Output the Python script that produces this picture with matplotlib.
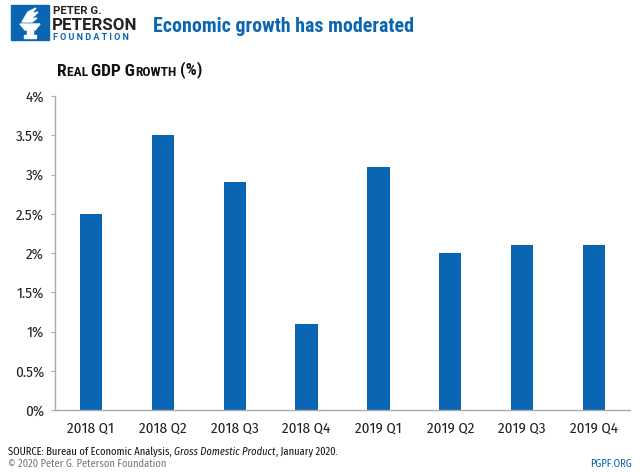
import matplotlib
matplotlib.use("Agg")
import matplotlib.pyplot as plt
from matplotlib.patches import Rectangle, Polygon

categories = ["2018 Q1", "2018 Q2", "2018 Q3", "2018 Q4", "2019 Q1", "2019 Q2", "2019 Q3", "2019 Q4"]
values = [2.5, 3.5, 2.9, 1.1, 3.1, 2.0, 2.1, 2.1]
yticks = [0, 0.5, 1, 1.5, 2, 2.5, 3, 3.5, 4]
ytick_labels = ["0%", "0.5%", "1%", "1.5%", "2%", "2.5%", "3%", "3.5%", "4%"]

BLUE = "#0a66b2"
BODY = ["Fira Sans Condensed", "DejaVu Sans"]
HEAD = ["Roboto Condensed", "DejaVu Sans"]
LOGO = ["Roboto", "DejaVu Sans"]
plt.rcParams["font.family"] = BODY

W, H = 640, 472
fig = plt.figure(figsize=(6.4, 4.72), dpi=100)
ax = fig.add_axes([55 / W, 1 - 410 / H, (630 - 55) / W, (410 - 96) / H])

x = list(range(len(categories)))
ax.bar(x, values, width=0.31, color=BLUE, zorder=2)
ax.set_xlim(-0.5, 7.5)
ax.set_ylim(0, 4)
ax.set_yticks(yticks)
ax.set_yticklabels(ytick_labels, fontsize=10.8, color="#222222")
ax.set_xticks(x)
ax.set_xticklabels(categories, fontsize=10.8, color="#222222")
for s in ["top", "right"]:
    ax.spines[s].set_visible(False)
for s in ["left", "bottom"]:
    ax.spines[s].set_color("#aaaaaa")
    ax.spines[s].set_linewidth(1.0)
ax.tick_params(axis="y", length=3, color="#aaaaaa", pad=5)
ax.tick_params(axis="x", length=0, pad=8)

# Title
fig.text(153 / W, 1 - 32 / H, "Economic growth has moderated", fontsize=14.3,
         fontweight="bold", color=BLUE, va="baseline", ha="left", family=HEAD)

# Axis title in small caps
pieces = [("R", 12.5), ("EAL ", 9.7), ("GDP G", 12.5), ("ROWTH", 9.7), (" (%)", 12.5)]
prev = fig.text(57 / W, 1 - 75.5 / H, pieces[0][0], fontsize=pieces[0][1], fontweight="bold",
                color="#111111", va="baseline", ha="left", family=HEAD)
for txt, fs in pieces[1:]:
    prev = plt.annotate(txt, xy=(1, 0), xycoords=prev, va="bottom", ha="left",
                        fontsize=fs, fontweight="bold", color="#111111",
                        annotation_clip=False, family=HEAD)

# Logo
lax = fig.add_axes([0, 1 - 45 / H, 140 / W, 45 / H])
lax.set_xlim(0, 140)
lax.set_ylim(45, 0)
lax.axis("off")
lax.add_patch(Rectangle((11, 5), 38, 35, color=BLUE))
lax.add_patch(Polygon([(20, 24), (40, 24), (35, 30), (25, 30)], color="white"))
lax.add_patch(Rectangle((27, 30), 6, 6, color="white"))
lax.add_patch(Rectangle((24, 35), 12, 2.5, color="white"))
lax.add_patch(Polygon([(22, 22), (28, 12), (36, 8), (31, 14), (38, 12), (31, 19), (37, 18), (32, 22)], color="white"))
lax.text(53, 14, "PETER G.", fontsize=8.2, fontweight="bold", color="#222222", va="baseline", ha="left",
         family=LOGO)
lax.text(52, 29.5, "PETERSON", fontsize=12.2, fontweight="bold", color="#222222", va="baseline", ha="left",
         family=LOGO)
lax.text(53, 40, "F O U N D A T I O N", fontsize=6.5, fontweight="bold", color=BLUE, va="baseline", ha="left",
         family=LOGO)

# Footer
s1 = fig.text(8 / W, 1 - 455 / H, "SOURCE: Bureau of Economic Analysis, ", fontsize=7.5,
              color="#111111", va="baseline", ha="left")
s2 = plt.annotate("Gross Domestic Product", xy=(1, 0), xycoords=s1, va="bottom", ha="left",
                  fontsize=7.5, style="italic", color="#111111", annotation_clip=False)
plt.annotate(", January 2020.", xy=(1, 0), xycoords=s2, va="bottom", ha="left",
             fontsize=7.5, color="#111111", annotation_clip=False)
fig.text(8 / W, 1 - 467 / H, "\u00a9 2020 Peter G. Peterson Foundation", fontsize=7.5,
         color="#777777", va="baseline", ha="left")
fig.text(632 / W, 1 - 467 / H, "PGPF.ORG", fontsize=7.5, color=BLUE, va="baseline", ha="right")

fig.savefig("out.png", dpi=100)
